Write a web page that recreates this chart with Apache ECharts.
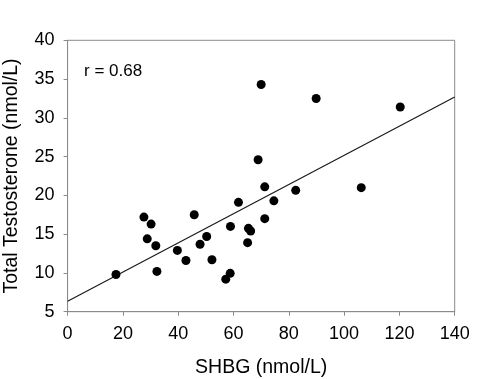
<!DOCTYPE html>
<html>
<head>
<meta charset="utf-8">
<script src="https://cdn.jsdelivr.net/npm/echarts@6/dist/echarts.min.js"></script>
<style>html,body{margin:0;padding:0;background:#fff}#c{width:500px;height:379px}</style>
</head>
<body>
<div id="c"></div>
<script>
var shbg = [17.5, 27.6, 30.2, 28.8, 31.9, 32.3, 39.7, 42.8, 45.8, 47.9, 50.3, 52.2, 58.9, 58.8, 57.2, 61.8, 65.4, 66.2, 65.1, 70.0, 89.9, 120.3, 68.9, 71.3, 82.5, 106.2, 74.6, 71.3];
var testosterone = [9.8, 17.2, 16.3, 14.4, 13.5, 10.2, 12.9, 11.6, 17.5, 13.7, 14.7, 11.7, 16.0, 9.95, 9.2, 19.1, 15.75, 15.4, 13.9, 34.3, 32.5, 31.4, 24.6, 21.1, 20.65, 21.0, 19.3, 17.0];
var fitX = [0, 140];
var fitY = [6.35, 32.7];
var xTicks = [0, 20, 40, 60, 80, 100, 120, 140];
var yTicks = [5, 10, 15, 20, 25, 30, 35, 40];
var rLabel = 'r = 0.68';

var points = shbg.map(function (x, i) { return [x, testosterone[i]]; });
var fitLine = fitX.map(function (x, i) { return [x, fitY[i]]; });
var font = 'Liberation Sans, Arial, sans-serif';

var chart = echarts.init(document.getElementById('c'), null, { renderer: 'canvas' });
chart.setOption({
  backgroundColor: '#fff',
  animation: false,
  grid: { left: 67.6, right: 45.3, top: 40.3, bottom: 67.3, containLabel: false, outerBoundsMode: 'none',
    show: true, borderColor: '#8a8a8a', borderWidth: 1, backgroundColor: 'transparent' },
  xAxis: {
    type: 'value', min: 0, max: 140, interval: 20,
    name: 'SHBG (nmol/L)', nameLocation: 'middle', nameGap: 46,
    nameTextStyle: { fontFamily: font, fontSize: 19.5, color: '#000' },
    axisLine: { show: true, lineStyle: { color: '#8a8a8a', width: 1 } },
    axisTick: { show: true, inside: false, length: 4, lineStyle: { color: '#8a8a8a' } },
    axisLabel: { margin: 13, fontFamily: font, fontSize: 18, color: '#000',
      formatter: function (v) { return xTicks.indexOf(v) >= 0 ? String(v) : ''; } },
    splitLine: { show: false }
  },
  yAxis: {
    type: 'value', min: 5, max: 40, interval: 5,
    name: 'Total Testosterone (nmol/L)', nameLocation: 'middle', nameGap: 46,
    nameTextStyle: { fontFamily: font, fontSize: 19.5, color: '#000' },
    axisLine: { show: true, lineStyle: { color: '#8a8a8a', width: 1 } },
    axisTick: { show: true, inside: false, length: 4, lineStyle: { color: '#8a8a8a' } },
    axisLabel: { margin: 13, fontFamily: font, fontSize: 18, color: '#000',
      formatter: function (v) { return yTicks.indexOf(v) >= 0 ? String(v) : ''; } },
    splitLine: { show: false }
  },
  graphic: [{
    type: 'text', left: 84, top: 63,
    style: { text: rLabel, fontFamily: font, fontSize: 17, fill: '#000' }
  }],
  series: [
    {
      type: 'line', data: fitLine, symbol: 'none', silent: true,
      lineStyle: { color: '#1a1a1a', width: 1.2 }, z: 1
    },
    {
      type: 'scatter', data: points, symbol: 'circle', symbolSize: 9,
      itemStyle: { color: '#000', opacity: 1 }, z: 2
    }
  ]
});
</script>
</body>
</html>
